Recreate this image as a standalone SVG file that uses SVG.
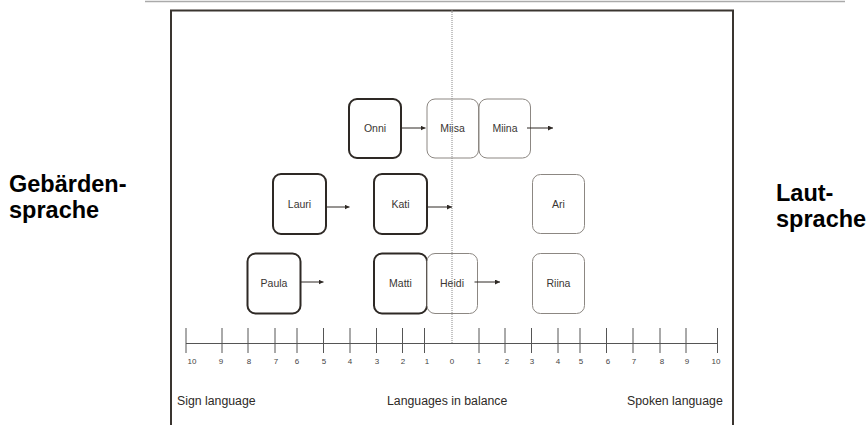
<svg xmlns="http://www.w3.org/2000/svg" width="866" height="425" viewBox="0 0 866 425">
<style>
.dark{fill:#fff;stroke:#2e2925;stroke-width:2}
.light{fill:#fff;stroke:#8c8782;stroke-width:1}
.nl{font-family:"Liberation Sans",Arial,sans-serif;font-size:10.5px;fill:#3a3633;text-anchor:middle}
.tk{font-family:"Liberation Sans",Arial,sans-serif;font-size:8px;fill:#444;text-anchor:middle}
.cap{font-family:"Liberation Sans",Arial,sans-serif;font-size:12.3px;fill:#2e2a27}
.side{font-family:"Liberation Sans",Arial,sans-serif;font-size:23.5px;font-weight:bold;fill:#000}
.ar{stroke:#2e2925;stroke-width:1;fill:none;marker-end:url(#ah)}
.tick{stroke:#555;stroke-width:1}
</style>
<defs>
<marker id="ah" viewBox="0 0 6 6" refX="6" refY="3" markerWidth="5" markerHeight="5" markerUnits="userSpaceOnUse" orient="auto">
<path d="M0,0 L6,3 L0,6 z" fill="#2e2925"/>
</marker>
</defs>
<rect width="866" height="425" fill="#fff"/>
<line x1="145" y1="1.5" x2="845" y2="1.5" stroke="#aaa" stroke-width="1.5"/>
<path d="M171,430 V10.5 H733 V430" fill="none" stroke="#3a3530" stroke-width="2"/>
<text class="side" x="9" y="192">Gebärden-</text>
<text class="side" x="9" y="218">sprache</text>
<text class="side" x="776" y="201">Laut-</text>
<text class="side" x="776" y="227">sprache</text>

<g id="axis">
<line x1="186" y1="343.5" x2="718" y2="343.5" stroke="#555" stroke-width="1"/>
<g class="tick">
<line x1="186" y1="328" x2="186" y2="353"/>
<line x1="222" y1="328" x2="222" y2="353"/>
<line x1="248" y1="328" x2="248" y2="353"/>
<line x1="275" y1="328" x2="275" y2="353"/>
<line x1="297" y1="328" x2="297" y2="353"/>
<line x1="323.5" y1="328" x2="323.5" y2="353"/>
<line x1="350" y1="328" x2="350" y2="353"/>
<line x1="376.5" y1="328" x2="376.5" y2="353"/>
<line x1="402.5" y1="328" x2="402.5" y2="353"/>
<line x1="424.5" y1="328" x2="424.5" y2="353"/>
<line x1="479" y1="328" x2="479" y2="353"/>
<line x1="505" y1="328" x2="505" y2="353"/>
<line x1="531.5" y1="328" x2="531.5" y2="353"/>
<line x1="558" y1="328" x2="558" y2="353"/>
<line x1="580" y1="328" x2="580" y2="353"/>
<line x1="606.5" y1="328" x2="606.5" y2="353"/>
<line x1="633" y1="328" x2="633" y2="353"/>
<line x1="660" y1="328" x2="660" y2="353"/>
<line x1="686" y1="328" x2="686" y2="353"/>
<line x1="717.5" y1="328" x2="717.5" y2="353"/>
</g>
<g>
<text class="tk" x="192" y="364">10</text>
<text class="tk" x="221" y="364">9</text>
<text class="tk" x="249" y="364">8</text>
<text class="tk" x="276" y="364">7</text>
<text class="tk" x="297" y="364">6</text>
<text class="tk" x="324" y="364">5</text>
<text class="tk" x="350" y="364">4</text>
<text class="tk" x="377" y="364">3</text>
<text class="tk" x="403" y="364">2</text>
<text class="tk" x="427" y="364">1</text>
<text class="tk" x="452" y="364">0</text>
<text class="tk" x="479" y="364">1</text>
<text class="tk" x="507" y="364">2</text>
<text class="tk" x="532" y="364">3</text>
<text class="tk" x="558" y="364">4</text>
<text class="tk" x="581" y="364">5</text>
<text class="tk" x="608" y="364">6</text>
<text class="tk" x="634" y="364">7</text>
<text class="tk" x="662" y="364">8</text>
<text class="tk" x="687" y="364">9</text>
<text class="tk" x="716" y="364">10</text>
</g>
<text class="cap" x="177" y="405">Sign language</text>
<text class="cap" x="387" y="405">Languages in balance</text>
<text class="cap" x="627" y="405">Spoken language</text>
</g>

<g id="onni"><rect class="dark" x="349" y="99" width="52" height="59" rx="8"/><text class="nl" x="375" y="132">Onni</text></g>
<g id="miisa"><rect class="light" x="427" y="99" width="51.5" height="59" rx="8"/><text class="nl" x="452.5" y="132">Miisa</text></g>
<g id="miina"><rect class="light" x="479" y="99" width="51.5" height="59" rx="8"/><text class="nl" x="505" y="132">Miina</text></g>
<g id="lauri"><rect class="dark" x="273" y="174" width="53" height="60" rx="8"/><text class="nl" x="299.5" y="208">Lauri</text></g>
<g id="kati"><rect class="dark" x="374" y="174" width="53" height="60" rx="8"/><text class="nl" x="400.5" y="208">Kati</text></g>
<g id="ari"><rect class="light" x="532.5" y="174.5" width="52" height="59" rx="8"/><text class="nl" x="558.5" y="208">Ari</text></g>
<g id="paula"><rect class="dark" x="247.5" y="253.5" width="53" height="60" rx="8"/><text class="nl" x="274" y="287">Paula</text></g>
<g id="matti"><rect class="dark" x="374" y="253.5" width="53" height="60" rx="8"/><text class="nl" x="400.5" y="287">Matti</text></g>
<g id="heidi"><rect class="light" x="427" y="253.5" width="50.5" height="60" rx="8"/><text class="nl" x="452" y="287">Heidi</text></g>
<g id="riina"><rect class="light" x="532.5" y="253.5" width="52" height="60" rx="8"/><text class="nl" x="558.5" y="287">Riina</text></g>

<line id="balance" x1="452" y1="10" x2="452" y2="344" stroke="#888" stroke-width="1" stroke-dasharray="1,1"/>

<g id="connectors">
<line class="ar" x1="401" y1="128" x2="425.5" y2="128"/>
<line class="ar" x1="527" y1="128" x2="553" y2="128"/>
<line class="ar" x1="326" y1="207" x2="349.5" y2="207"/>
<line class="ar" x1="427" y1="207" x2="452" y2="207"/>
<line class="ar" x1="300.5" y1="282" x2="323.5" y2="282"/>
<line class="ar" x1="474.5" y1="282" x2="500" y2="282"/>
</g>
</svg>
